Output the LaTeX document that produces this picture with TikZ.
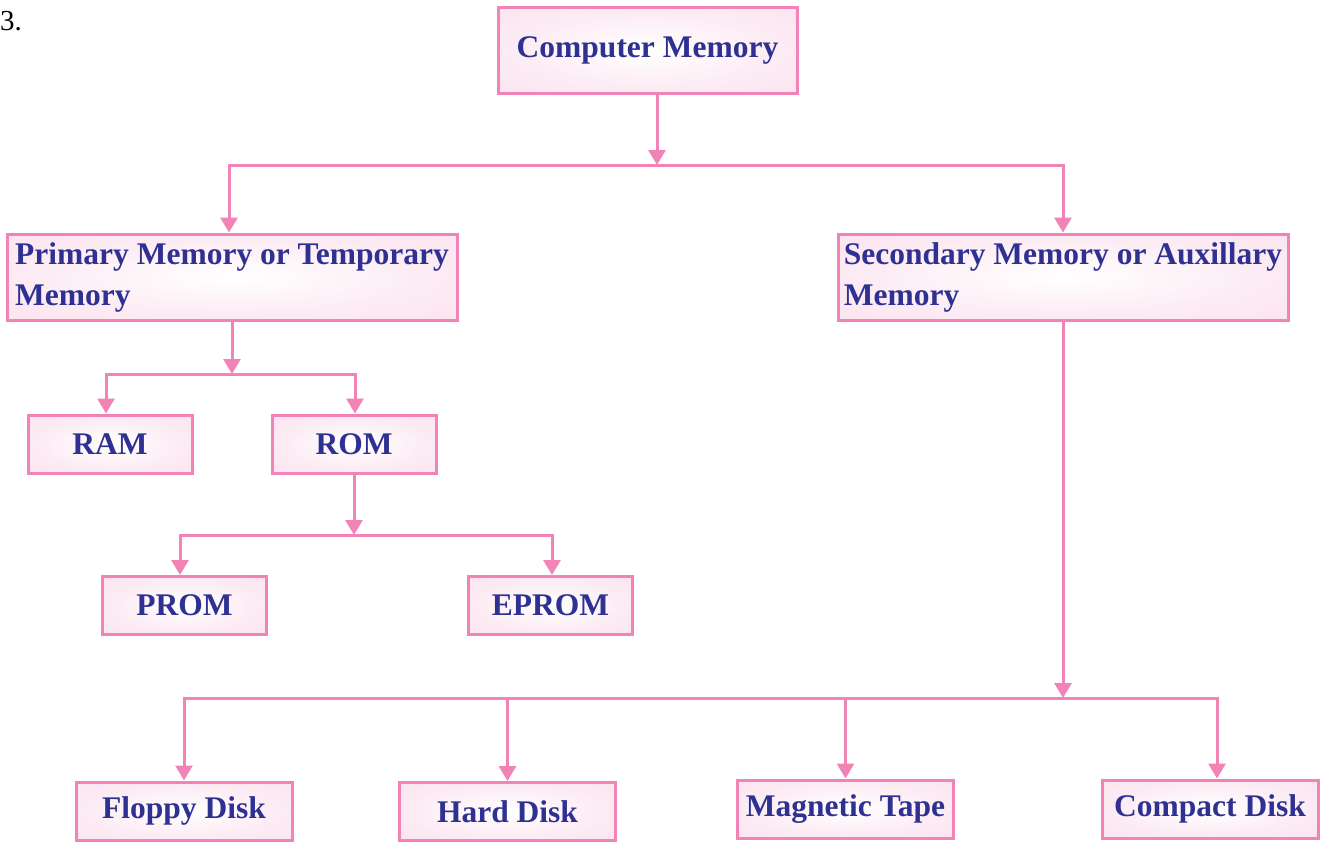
\documentclass[tikz,border=0pt]{standalone}
\usepackage{fontspec}
\setmainfont{Liberation Serif}
\usetikzlibrary{arrows.meta}
\definecolor{linepink}{RGB}{241,131,183}
\definecolor{boxpink}{RGB}{250,220,235}
\definecolor{textblue}{RGB}{46,49,146}
\pgfdeclareradialshading{boxshade}{\pgfpoint{0bp}{0bp}}{color(0bp)=(white); color(22bp)=(boxpink!55!white); color(50bp)=(boxpink); color(72bp)=(boxpink)}
\tikzset{
  memfont/.style={font=\fontsize{31.5}{41}\selectfont\bfseries},
  membox/.style={draw=linepink, line width=3pt, shade, shading=boxshade, inner sep=0pt, text=textblue, memfont},
  smallbox/.style={membox, minimum width=164pt, minimum height=58pt},
  widebox/.style={membox, minimum width=216pt, minimum height=58pt},
  twobox/.style={membox, minimum width=450pt, minimum height=86pt, align=left},
  conn/.style={draw=linepink, line width=3pt, -{Triangle[width=17pt,length=15pt]}, linepink},
}
\begin{document}
\begin{tikzpicture}[x=1pt,y=-1pt]
\useasboundingbox (0,0) rectangle (1321,841);
\node[anchor=base west, font=\fontsize{29}{30}\selectfont, inner sep=0pt] (num) at (0,30) {3.};
\node[membox, minimum width=299pt, minimum height=86pt] (cm) at (647.5,50) {\raisebox{-2pt}{Computer Memory}};
\node[twobox] (prim) at (232,277) {Primary Memory or Temporary\\Memory};
\node[twobox] (sec) at (1063,277) {Secondary Memory or Auxillary\\Memory};
\node[smallbox] (ram) at (110,444) {RAM};
\node[smallbox] (rom) at (354,444) {ROM};
\node[smallbox] (prom) at (184.5,605.5) {PROM};
\node[smallbox] (eprom) at (550.5,605.5) {EPROM};
\node[widebox] (floppy) at (184,811) {Floppy Disk};
\node[widebox] (hard) at (507.5,811.5) {Hard Disk};
\node[widebox] (tape) at (845.5,809) {Magnetic Tape};
\node[widebox] (cd) at (1210,809) {Compact Disk};
% junctions
\coordinate (j1) at (657,165);
\coordinate (j2) at (232,374);
\coordinate (j3) at (354,535);
\coordinate (j4) at (1063,698);
% connectors
\draw[conn] (cm.south -| j1) -- (j1);
\draw[conn] (j1) -| ([xshift=-3pt]prim.north);
\draw[conn] (j1) -| (sec.north);
\draw[conn] (prim.south -| j2) -- (j2);
\draw[conn] (j2) -| ([xshift=-4pt]ram.north);
\draw[conn] (j2) -| ([xshift=1pt]rom.north);
\draw[conn] (rom.south -| j3) -- (j3);
\draw[conn] (j3) -| ([xshift=-4.5pt]prom.north);
\draw[conn] (j3) -| ([xshift=1.5pt]eprom.north);
\draw[conn] (sec.south -| j4) -- (j4);
\draw[conn] (j4) -| (floppy.north);
\draw[conn] (j4) -| (hard.north);
\draw[conn] (j4) -| (tape.north);
\draw[conn] (j4) -| ([xshift=7pt]cd.north);
\end{tikzpicture}
\end{document}
